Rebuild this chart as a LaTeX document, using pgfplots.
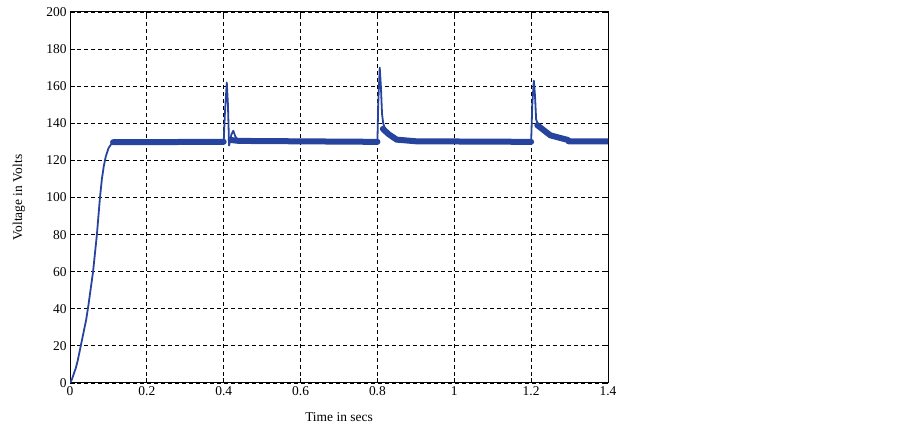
\documentclass[border=0pt]{standalone}
\usepackage{fontspec}
\setmainfont{Liberation Serif}
\usepackage{pgfplots}
\pgfplotsset{compat=1.18}
\definecolor{volt}{RGB}{38,68,158}

\begin{document}
\begin{tikzpicture}[font=\fontsize{13.5}{15}\selectfont]
\useasboundingbox (0,0) rectangle (903bp,429bp);
\begin{axis}[at={(70bp,46bp)}, anchor=south west,
  width=538bp, height=371bp, scale only axis,
  xmin=0, xmax=1.4, ymin=0, ymax=200,
  xtick={0,0.2,0.4,0.6,0.8,1,1.2,1.4},
  ytick={0,20,40,60,80,100,120,140,160,180,200},
  /pgf/number format/assume math mode=true,
  tick align=inside, major tick length=5bp,
  tick style={black, line width=0.8bp},
  axis line style={black, line width=1bp},
  grid=major,
  grid style={black, line width=0.8bp, dash pattern=on 4bp off 3bp},
  xlabel={Time in secs},
  ylabel={Voltage in Volts},
  xlabel style={at={(axis description cs:0.5,-0.092)}, anchor=center},
  ylabel style={at={(axis description cs:-0.095,0.5)}, anchor=center},
  unbounded coords=jump,
  clip=true
]
% full trace, thin
\addplot[volt, line width=1.8bp, line join=round] coordinates {
(0,0) (0.005,2) (0.01,5) (0.015,8) (0.02,12) (0.028,20) (0.035,27)
(0.042,34) (0.048,42) (0.054,51) (0.06,60) (0.065,70) (0.07,80)
(0.074,90) (0.078,100) (0.083,110) (0.088,117) (0.093,122) (0.1,126.5)
(0.108,129) (0.12,130) (0.4,130)
(0.403,145) (0.408,162) (0.411,150) (0.414,128) (0.417,131) (0.42,134)
(0.425,136) (0.43,133) (0.435,131.5) (0.44,130.5) (0.8,130)
(0.802,150) (0.806,170) (0.809,160) (0.812,145) (0.815,140) (0.82,137)
(0.83,134) (0.84,132.5) (0.85,131) (0.87,130.3) (1.2,130)
(1.203,150) (1.207,163) (1.21,155) (1.213,142) (1.217,140) (1.222,138)
(1.23,136) (1.24,134.5) (1.25,133.5) (1.27,132) (1.296,131)
(1.297,130.3) (1.4,130.3)
};
% ripple band, thick
\addplot[volt, line width=6bp, line cap=round] coordinates {
(0.112,129.8) (0.4,130) (0.4,nan)
(0.418,131) (0.44,130.5) (0.8,130) (0.8,nan)
(0.814,137) (0.83,134) (0.85,131.2) (0.9,130.3) (1.2,130) (1.2,nan)
(1.216,139) (1.25,133.5) (1.296,131) (1.296,nan)
(1.297,130.3) (1.4,130.3)
};
\end{axis}
\end{tikzpicture}
\end{document}
